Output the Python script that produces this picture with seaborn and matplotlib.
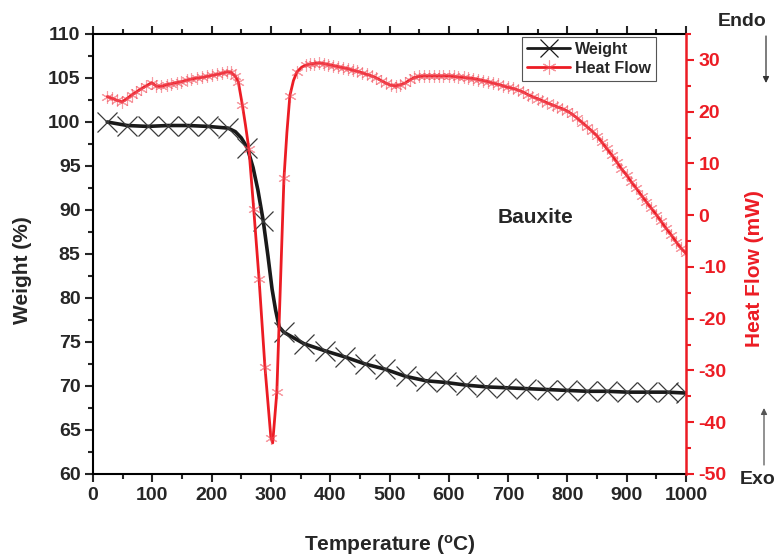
import numpy as np
import pandas as pd
import matplotlib
matplotlib.use("Agg")
import matplotlib.pyplot as plt
from matplotlib.lines import Line2D
from matplotlib.ticker import MultipleLocator
import seaborn as sns

# ---------------- data ----------------
temp_w = [24, 58, 92, 126, 160, 194, 228, 240, 250, 260, 270, 278, 287, 295,
          302, 308, 314, 322, 356, 391, 425, 459, 493, 527, 561, 595, 629, 663,
          697, 731, 765, 799, 833, 867, 901, 935, 969, 1000]
weight = [100.0, 99.6, 99.5, 99.6, 99.6, 99.5, 99.3, 98.9, 98.2, 97.1, 94.8,
          92.3, 88.8, 84.8, 81.0, 78.6, 76.7, 76.1, 74.8, 74.0, 73.3, 72.5,
          71.9, 71.1, 70.6, 70.4, 70.1, 69.9, 69.8, 69.7, 69.6, 69.5, 69.4,
          69.4, 69.3, 69.3, 69.3, 69.2]
weight_marked = [24, 58, 92, 126, 160, 194, 228, 260, 287, 322, 356, 391, 425,
                 459, 493, 527, 561, 595, 629, 663, 697, 731, 765, 799, 833,
                 867, 901, 935, 969, 1000]

temp_hf = [24, 32, 40, 49, 57, 65, 73, 81, 90, 99, 107, 115, 124, 132, 141,
           149, 158, 166, 175, 183, 192, 200, 209, 217, 226, 233, 240, 245,
           252, 257, 263, 271, 280, 290, 300, 303, 310, 322, 327, 332, 338,
           344, 352, 359, 366, 373, 381, 389, 397, 405, 413, 421, 430, 438,
           446, 454, 462, 470, 478, 486, 494, 502, 511, 518, 526, 534, 542,
           550, 558, 566, 575, 583, 591, 600, 608, 616, 625, 633, 641, 650,
           658, 666, 675, 683, 691, 700, 708, 716, 725, 733, 741, 750, 758,
           766, 775, 783, 791, 800, 808, 816, 825, 833, 841, 850, 858, 866,
           875, 883, 891, 900, 908, 916, 925, 933, 941, 950, 958, 966, 975,
           983, 991, 1000]
heat_flow = [22.9, 22.6, 22.2, 21.9, 22.5, 23.2, 23.8, 24.4, 25.0, 25.6, 24.9,
             24.9, 25.2, 25.4, 25.6, 25.8, 26.1, 26.3, 26.5, 26.6, 26.8, 27.0,
             27.2, 27.4, 27.7, 27.6, 26.8, 25.8, 21.2, 17.5, 12.7, 1.2, -12.3,
             -29.4, -43.0, -44.0, -34.2, 7.1, 16.0, 23.1, 26.0, 27.7, 28.6,
             29.0, 29.2, 29.3, 29.4, 29.3, 29.1, 28.9, 28.7, 28.5, 28.3, 28.0,
             27.8, 27.5, 27.2, 26.9, 26.5, 26.0, 25.5, 25.1, 25.0, 25.2, 25.5,
             26.1, 26.6, 26.8, 26.9, 26.9, 26.9, 26.9, 26.9, 26.9, 26.8, 26.7,
             26.6, 26.5, 26.4, 26.2, 26.0, 25.8, 25.5, 25.3, 25.0, 24.7, 24.5,
             24.2, 23.8, 23.3, 22.9, 22.5, 22.1, 21.7, 21.3, 20.9, 20.6, 20.1,
             19.5, 18.8, 17.9, 17.1, 16.3, 15.3, 14.1, 12.9, 11.6, 10.3, 9.0,
             7.7, 6.4, 5.2, 3.8, 2.6, 1.4, 0.1, -1.2, -2.5, -3.8, -5.1, -6.3,
             -7.4]
hf_unmarked = [257, 303, 327, 338, 352]

x_ticks = [0, 100, 200, 300, 400, 500, 600, 700, 800, 900, 1000]
w_ticks = [60, 65, 70, 75, 80, 85, 90, 95, 100, 105, 110]
hf_ticks = [-50, -40, -30, -20, -10, 0, 10, 20, 30]

# ---------------- style ----------------
sns.set_style("ticks")
plt.rcParams['font.family'] = ['Liberation Sans', 'DejaVu Sans']
plt.rcParams['font.weight'] = 'bold'
plt.rcParams['axes.unicode_minus'] = False
plt.rcParams['mathtext.fontset'] = 'custom'
plt.rcParams['mathtext.rm'] = 'Liberation Sans:bold'
plt.rcParams['mathtext.bf'] = 'Liberation Sans:bold'
plt.rcParams['mathtext.it'] = 'Liberation Sans:bold'

RED = '#ec1c24'

fig = plt.figure(figsize=(7.77, 5.57), dpi=100)
ax = fig.add_axes([93 / 777, 1 - 474 / 557, 593 / 777, 440 / 557])
ax2 = ax.twinx()

df_w = pd.DataFrame({'T': temp_w, 'W': weight})
df_h = pd.DataFrame({'T': temp_hf, 'H': heat_flow})
w_idx = [i for i, t in enumerate(temp_w) if t in weight_marked]
h_idx = [i for i, t in enumerate(temp_hf) if t not in hf_unmarked]

sns.lineplot(data=df_w, x='T', y='W', ax=ax, color='#1a1a1a', lw=2.6,
             marker='x', markersize=14, markeredgewidth=0.9,
             markeredgecolor='#3a3a3a', markevery=w_idx, sort=False,
             estimator=None, legend=False)
sns.lineplot(data=df_h, x='T', y='H', ax=ax2, color=RED, lw=2.0,
             marker=(6, 2, 0), markersize=9, markeredgewidth=0.8,
             markeredgecolor=(0.95, 0.3, 0.35, 0.55), markevery=h_idx,
             sort=False, estimator=None, legend=False)

ax.set_xlim(0, 1000)
ax.set_ylim(60, 110)
ax2.set_ylim(-50, 35)

ax.set_xticks(x_ticks)
ax.set_yticks(w_ticks)
ax2.set_yticks(hf_ticks)
ax.xaxis.set_minor_locator(MultipleLocator(50))
ax.yaxis.set_minor_locator(MultipleLocator(2.5))
ax2.yaxis.set_minor_locator(MultipleLocator(5))

ax.tick_params(axis='both', which='major', direction='out', length=6,
               width=1.5, labelsize=14, pad=3, top=True, right=False)
ax.tick_params(axis='both', which='minor', direction='out', length=3.5,
               width=1.5, top=True, right=False)
ax2.tick_params(axis='y', which='major', direction='out', length=6, width=1.5,
                colors=RED, labelsize=14, pad=3)
ax2.tick_params(axis='y', which='minor', direction='out', length=3.5,
                width=1.5, colors=RED)
for lab in ax.get_xticklabels() + ax.get_yticklabels() + ax2.get_yticklabels():
    lab.set_fontweight('bold')

for s in ['left', 'bottom', 'top']:
    ax.spines[s].set_linewidth(1.5)
    ax.spines[s].set_color('black')
for s in ['left', 'bottom', 'top']:
    ax2.spines[s].set_visible(False)
ax2.spines['right'].set_color(RED)
ax2.spines['right'].set_linewidth(1.8)
ax.spines['right'].set_visible(False)

ax.set_xlabel(r'Temperature ($^{\rm o}$C)', fontsize=15, fontweight='bold')
ax.set_ylabel('Weight (%)', fontsize=15, fontweight='bold')
ax2.set_ylabel('Heat Flow (mW)', fontsize=15, fontweight='bold', color=RED)
ax.xaxis.set_label_coords(0.5, -0.134)
ax.yaxis.set_label_coords(-0.103, 0.464)
ax2.yaxis.set_label_coords(1.0995, 0.468)

ax.text(747, 89.2, 'Bauxite', fontsize=15, fontweight='bold',
        ha='center', va='center')

handles = [
    Line2D([], [], color='#1a1a1a', lw=2.0, marker='x', markersize=13,
           markeredgewidth=0.9),
    Line2D([], [], color=RED, lw=2.0, marker=(6, 2, 0), markersize=10,
           markeredgewidth=0.8,
           markeredgecolor=(0.95, 0.3, 0.35, 0.6)),
]
leg = ax2.legend(handles, ['Weight', 'Heat Flow'], loc='upper right',
                 bbox_to_anchor=(0.949, 0.993), fancybox=False, framealpha=1,
                 edgecolor='#555555', handlelength=2.7, handletextpad=0.3,
                 borderpad=0.3, labelspacing=0.25, borderaxespad=0,
                 prop={'weight': 'bold', 'size': 11.5})
leg.get_frame().set_linewidth(0.8)

# Endo / Exo annotations (figure pixel coordinates)
fig.text(742 / 777, 1 - 22 / 557, 'Endo', fontsize=14, fontweight='bold',
         ha='center', va='center')
fig.text(758 / 777, 1 - 479 / 557, 'Exo', fontsize=14, fontweight='bold',
         ha='center', va='center')
ax.annotate('', xy=(766 / 777, 1 - 83 / 557), xytext=(766 / 777, 1 - 36 / 557),
            xycoords='figure fraction', textcoords='figure fraction',
            arrowprops=dict(arrowstyle='-|>', color='#333333', lw=0.9,
                            mutation_scale=9, shrinkA=0, shrinkB=0),
            annotation_clip=False)
ax.annotate('', xy=(764 / 777, 1 - 408 / 557), xytext=(764 / 777, 1 - 465 / 557),
            xycoords='figure fraction', textcoords='figure fraction',
            arrowprops=dict(arrowstyle='-|>', color='#555555', lw=0.9,
                            mutation_scale=9, shrinkA=0, shrinkB=0),
            annotation_clip=False)

fig.savefig('out.png', dpi=100)
